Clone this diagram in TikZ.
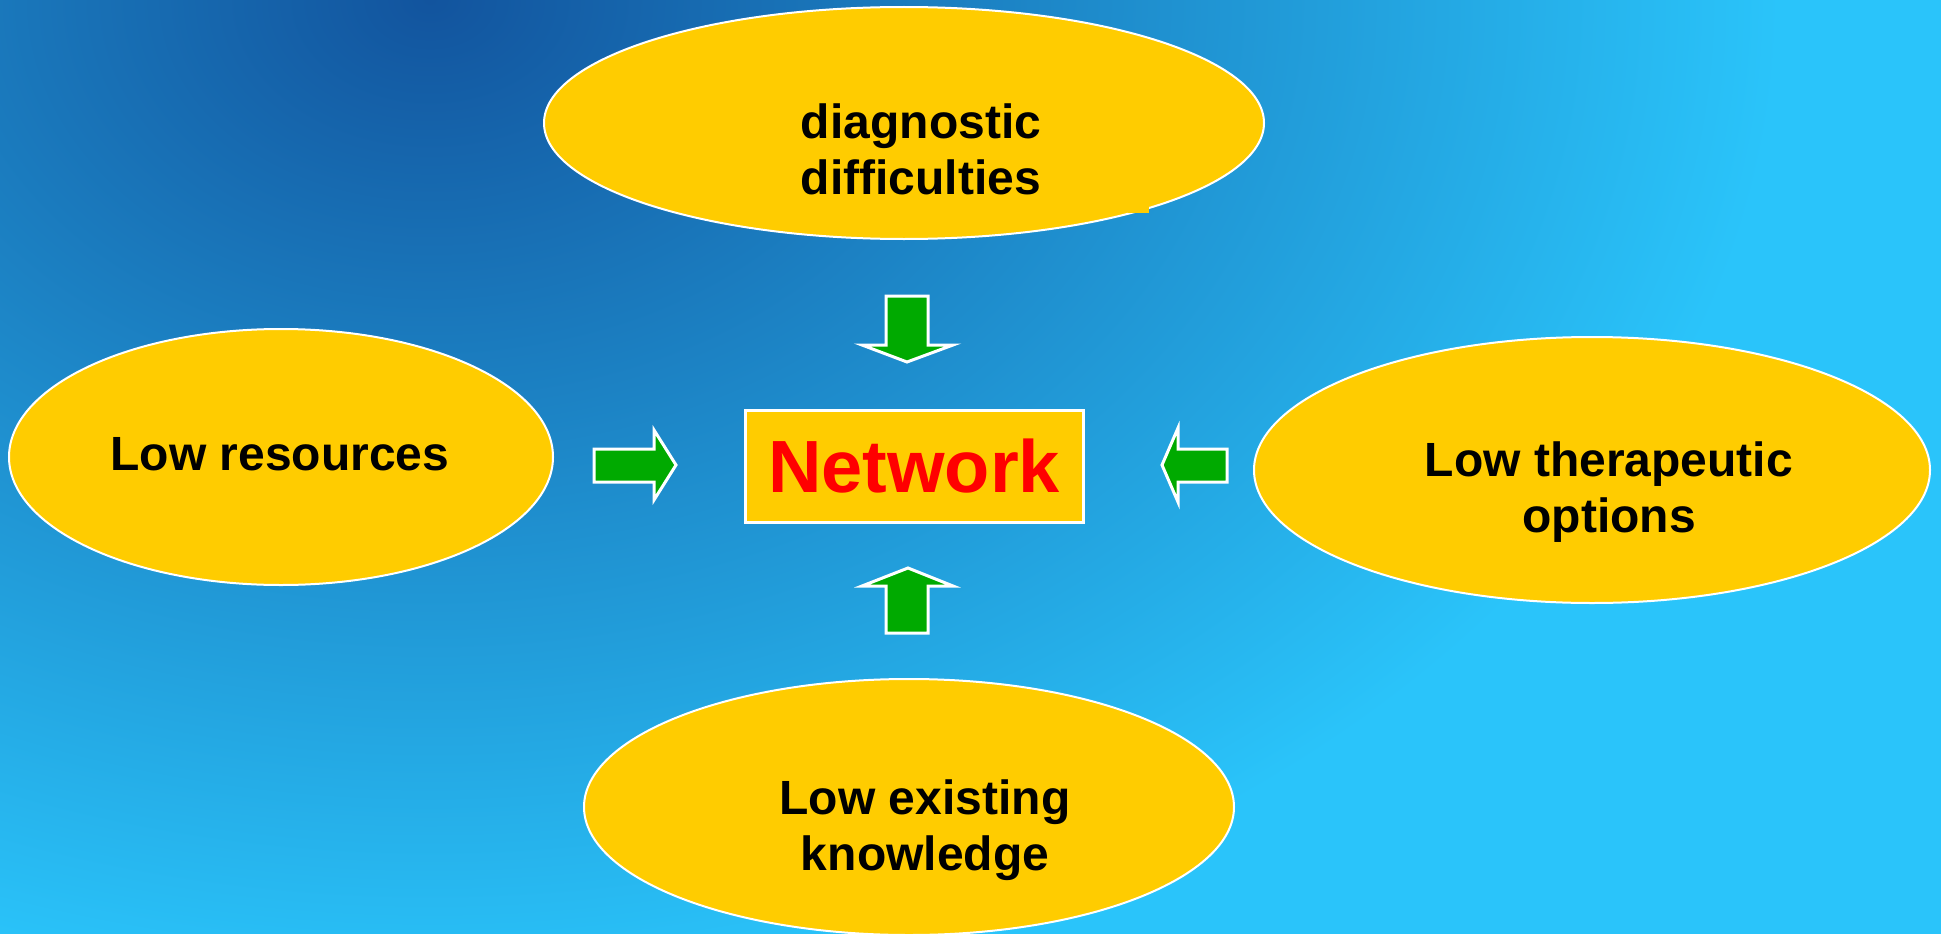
\documentclass[tikz,border=0pt]{standalone}
\usepackage{fontspec}
\setmainfont{Liberation Sans}
\usetikzlibrary{shapes.geometric}
\definecolor{bgdark}{RGB}{18,84,158}
\definecolor{bglight}{RGB}{42,196,250}
\definecolor{blobyellow}{RGB}{255,204,0}
\definecolor{arrowgreen}{RGB}{0,170,0}
\tikzset{
  blob/.style={ellipse, fill=blobyellow, draw=white, line width=2pt, inner sep=0pt},
  txt/.style={font=\fontsize{48}{56}\selectfont\bfseries, align=center, text=black, inner sep=0pt},
  netbox/.style={rectangle, fill=blobyellow, draw=white, line width=3pt, minimum width=338pt, minimum height=112pt, font=\fontsize{74}{80}\selectfont\bfseries, text=red, inner sep=0pt},
  blockarrow/.style={fill=arrowgreen, draw=white, line width=3pt, line join=miter}
}
\begin{document}
\begin{tikzpicture}[x=1pt,y=-1pt]
\useasboundingbox (0,0) rectangle (1941,934);
\begin{scope}
  \clip (0,0) rectangle (1941,934);
  \fill[bglight] (0,0) rectangle (1941,934);
  \shade[inner color=bgdark, outer color=bglight] (430,0) ellipse[x radius=1350pt, y radius=1000pt];
\end{scope}
% ellipses
\node[blob, minimum width=720pt, minimum height=232pt] (diag) at (904,123) {};
\fill[blobyellow] (1128,200) rectangle (1149,213);
\node[blob, minimum width=544pt, minimum height=256pt] (res) at (281,457) {};
\node[blob, minimum width=676pt, minimum height=266pt] (ther) at (1592,470) {};
\node[blob, minimum width=650pt, minimum height=256pt] (know) at (909,807) {};
% texts
\node[txt] (diagt) at (921,149) {diagnostic\\difficulties};
\node[txt] (rest) at (280,454) {Low resources};
\node[txt] (thert) at (1609,492) {Low therapeutic\\options};
\node[txt] (knowt) at (925,830) {Low existing\\knowledge};
% central box
\node[netbox] (net) at (914,466) {Network};
% block arrows
\draw[blockarrow] (886,296) -- (928,296) -- (928,345) -- (953,345) -- (907,362) -- (862,345) -- (886,345) -- cycle;
\draw[blockarrow] (886,633) -- (928,633) -- (928,586) -- (953,586) -- (908,568) -- (862,586) -- (886,586) -- cycle;
\draw[blockarrow] (594,449) -- (654,449) -- (654,430) -- (676,465) -- (654,500) -- (654,482) -- (594,482) -- cycle;
\draw[blockarrow] (1227,449) -- (1178,449) -- (1178,428) -- (1162,465) -- (1178,502) -- (1178,482) -- (1227,482) -- cycle;
\end{tikzpicture}
\end{document}
